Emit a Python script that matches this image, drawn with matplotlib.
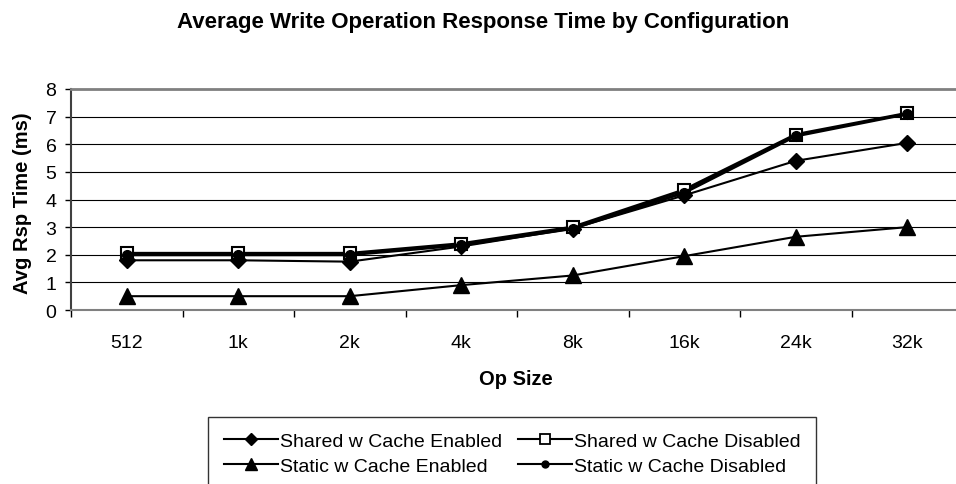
import numpy as np
import matplotlib.pyplot as plt
from matplotlib.lines import Line2D

plt.rcParams['font.family'] = ['Liberation Sans', 'DejaVu Sans']

op_sizes = ['512', '1k', '2k', '4k', '8k', '16k', '24k', '32k']
shared_enabled = [1.8, 1.8, 1.75, 2.3, 2.95, 4.15, 5.4, 6.05]
shared_disabled = [2.05, 2.05, 2.05, 2.4, 3.0, 4.35, 6.35, 7.12]
static_enabled = [0.5, 0.5, 0.5, 0.9, 1.25, 1.95, 2.65, 3.0]
static_disabled = [2.0, 2.0, 2.0, 2.35, 2.95, 4.25, 6.3, 7.1]

W, H = 956, 485
fig = plt.figure(figsize=(W / 100, H / 100), dpi=100)
# plot area runs a little past the right edge, like the original
ax = fig.add_axes([71 / W, (H - 311) / H, (963 - 71) / W, (311 - 90) / H])

x = np.arange(len(op_sizes))
ax.plot(x, shared_enabled, color='black', lw=1.5, marker='D', ms=8)
ax.plot(x, shared_disabled, color='black', lw=2.2, marker='s', ms=9,
        mfc='white', mew=1.5)
ax.plot(x, static_enabled, color='black', lw=1.5, marker='^', ms=11)
ax.plot(x, static_disabled, color='black', lw=2.2, marker='o', ms=7)

ax.set_xlim(-0.5, len(op_sizes) - 0.5)
ax.set_ylim(0, 8)
ax.set_yticks(range(9))
ax.set_xticks(x)
ax.set_xticklabels(op_sizes, fontsize=14)
ax.set_xticks(np.arange(-0.5, len(op_sizes)), minor=True)
ax.tick_params(axis='x', which='major', length=0, pad=17)
ax.tick_params(axis='x', which='minor', length=5, width=1, direction='out')
ax.tick_params(axis='y', labelsize=14, length=4.5, width=1, pad=6)
ax.yaxis.grid(True, color='black', lw=0.8)
ax.set_axisbelow(True)

ax.spines['right'].set_visible(False)
ax.spines['top'].set_color('#808080')
ax.spines['top'].set_linewidth(2)
ax.spines['bottom'].set_color('#808080')
ax.spines['bottom'].set_linewidth(1.5)
ax.spines['left'].set_color('#404040')
ax.spines['left'].set_linewidth(1.5)

fig.text(483 / W, 1 - 28 / H, 'Average Write Operation Response Time by Configuration',
         ha='center', va='baseline', fontsize=16, fontweight='bold')
fig.text(516 / W, 1 - 380 / H, 'Op Size', ha='center', va='center',
         fontsize=14.5, fontweight='bold')
fig.text(23 / W, 1 - 203 / H, 'Avg Rsp Time (ms)', ha='center', va='center',
         rotation=90, fontsize=14.5, fontweight='bold')

# legend is filled row by row in the original
handles = [
    Line2D([], [], color='black', lw=1.5, marker='D', ms=6),
    Line2D([], [], color='black', lw=1.5, marker='^', ms=8),
    Line2D([], [], color='black', lw=1.5, marker='s', ms=7, mfc='white', mew=1.3),
    Line2D([], [], color='black', lw=1.5, marker='o', ms=5),
]
labels = ['Shared w Cache Enabled', 'Static w Cache Enabled',
          'Shared w Cache Disabled', 'Static w Cache Disabled']
leg = fig.legend(handles, labels, loc='upper left', bbox_to_anchor=(208 / W, 1 - 418 / H),
                 ncol=2, fontsize=14, frameon=True, fancybox=False,
                 edgecolor='black', handlelength=2.8, handletextpad=0.1,
                 columnspacing=0.8, borderpad=0.8, labelspacing=0.35,
                 borderaxespad=0)
leg.get_frame().set_linewidth(1.0)

plt.savefig('out.png', dpi=100)
